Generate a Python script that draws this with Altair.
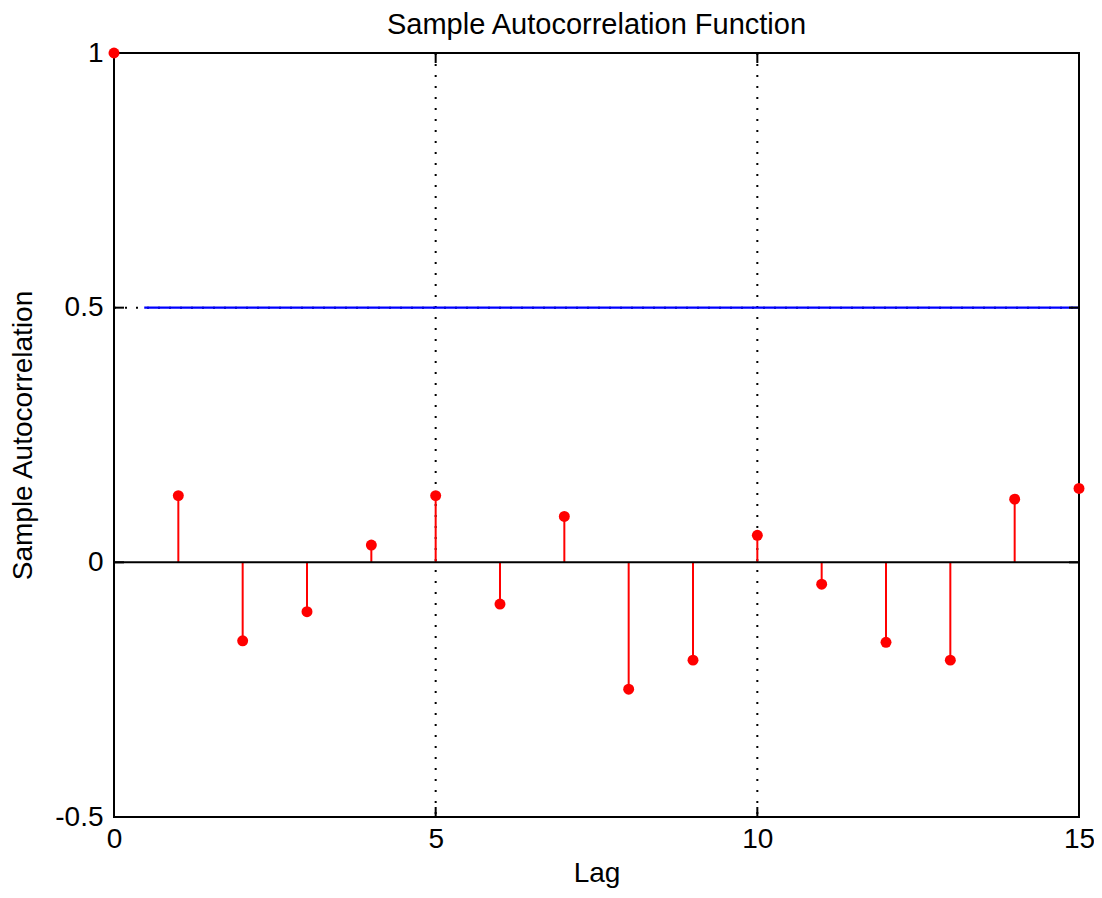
import altair as alt
import pandas as pd

lags = list(range(16))
acf = [1.0, 0.131, -0.154, -0.097, 0.034, 0.131, -0.082, 0.090,
       -0.249, -0.192, 0.053, -0.043, -0.157, -0.192, 0.124, 0.145]
bound_x = [0.47, 15]
bound_y = [0.5, 0.5]
x_ticks = [0, 5, 10, 15]
y_ticks = [-0.5, 0, 0.5, 1]
x_grid = [5, 10]
y_grid = [0.5]

W, H = 965, 764
FONT = "Liberation Sans"

df = pd.DataFrame({"lag": lags, "acf": acf, "zero": [0] * len(lags)})
bound_df = pd.DataFrame({"x": bound_x, "y": bound_y})
xt = pd.DataFrame({"t": x_ticks})
yt = pd.DataFrame({"t": y_ticks})
xg = pd.DataFrame({"t": x_grid})
yg = pd.DataFrame({"t": y_grid})
zero_df = pd.DataFrame({"x": [0, 15], "y": [0, 0]})
frame_df = pd.DataFrame({"k": [0]})

xscale = alt.Scale(domain=[0, 15], nice=False, zero=False)
yscale = alt.Scale(domain=[-0.5, 1], nice=False, zero=False)

xaxis = alt.Axis(values=x_ticks, title="Lag", grid=False, ticks=False,
                 domain=False, format="d", labelFont=FONT, labelFontSize=28,
                 labelColor="black", labelPadding=8, titleFont=FONT,
                 titleFontSize=28, titleFontWeight="normal", titleColor="black",
                 titlePadding=6, labelFlush=False)
yaxis = alt.Axis(values=y_ticks, title="Sample Autocorrelation", grid=False,
                 ticks=False, domain=False, format=".1~f", labelFont=FONT,
                 labelFontSize=28, labelColor="black", labelPadding=11,
                 titleFont=FONT, titleFontSize=28, titleFontWeight="normal",
                 titleColor="black", titlePadding=17, labelFlush=False,
                 labelExpr="replace(datum.label, '\u2212', '-')")

base = alt.Chart(df)

gx = alt.Chart(xg).mark_rule(color="black", strokeWidth=2, strokeDash=[2, 9]).encode(
    x=alt.X("t:Q", scale=xscale, axis=xaxis), y=alt.value(0), y2=alt.value(H))
gy = alt.Chart(yg).mark_rule(color="black", strokeWidth=2, strokeDash=[2, 9]).encode(
    y=alt.Y("t:Q", scale=yscale, axis=yaxis), x=alt.value(0), x2=alt.value(W))

stems = base.mark_rule(color="#ff0000", strokeWidth=2).encode(
    x=alt.X("lag:Q", scale=xscale),
    y=alt.Y("zero:Q", scale=yscale),
    y2="acf:Q",
)

zero_line = alt.Chart(zero_df).mark_line(color="black", strokeWidth=2).encode(
    x=alt.X("x:Q", scale=xscale), y=alt.Y("y:Q", scale=yscale)
)

bound = alt.Chart(bound_df).mark_line(color="#0000ff", strokeWidth=2.2).encode(
    x=alt.X("x:Q", scale=xscale), y=alt.Y("y:Q", scale=yscale)
)

points = base.mark_circle(color="#ff0000", opacity=1, size=120).encode(
    x=alt.X("lag:Q", scale=xscale), y=alt.Y("acf:Q", scale=yscale)
)

tick_len = 10
bt = alt.Chart(xt).mark_rule(color="black", strokeWidth=2).encode(
    x=alt.X("t:Q", scale=xscale), y=alt.value(H - tick_len), y2=alt.value(H))
tt = alt.Chart(xt).mark_rule(color="black", strokeWidth=2).encode(
    x=alt.X("t:Q", scale=xscale), y=alt.value(0), y2=alt.value(tick_len))
lt = alt.Chart(yt).mark_rule(color="black", strokeWidth=2).encode(
    y=alt.Y("t:Q", scale=yscale), x=alt.value(0), x2=alt.value(tick_len))
rt = alt.Chart(yt).mark_rule(color="black", strokeWidth=2).encode(
    y=alt.Y("t:Q", scale=yscale), x=alt.value(W - tick_len), x2=alt.value(W))

frame = alt.Chart(frame_df).mark_rect(filled=False, stroke="black", strokeWidth=2).encode(
    x=alt.value(0), x2=alt.value(W), y=alt.value(0), y2=alt.value(H))

chart = alt.layer(gx, gy, stems, zero_line, bound, bt, tt, lt, rt, frame, points).properties(
    width=W, height=H,
    title=alt.Title("Sample Autocorrelation Function", font=FONT, fontSize=29,
                    fontWeight="normal", color="black", anchor="middle", offset=-1),
    autosize=alt.AutoSizeParams(type="none"),
    padding={"left": 106, "top": 45, "right": 15, "bottom": 72},
).configure_view(stroke=None).configure(background="white")

chart.save("out.html", embed_options={"renderer": "svg", "actions": False})
